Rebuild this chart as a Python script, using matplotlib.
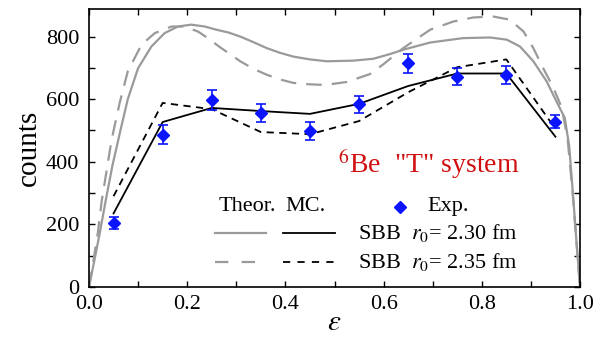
import matplotlib
matplotlib.use("Agg")
import matplotlib.pyplot as plt
from matplotlib.ticker import MultipleLocator, FormatStrFormatter

plt.rcParams['font.family'] = ['Liberation Serif', 'DejaVu Serif']
plt.rcParams['mathtext.fontset'] = 'stix'

# Experimental data
exp_x = [0.05, 0.15, 0.25, 0.35, 0.45, 0.55, 0.65, 0.75, 0.85, 0.95]
exp_y = [205, 487, 598, 555, 498, 583, 715, 672, 678, 528]
exp_err = [20, 30, 32, 28, 28, 28, 30, 28, 28, 20]

# Monte Carlo curves
mc_x = [0.05, 0.15, 0.25, 0.35, 0.45, 0.55, 0.65, 0.75, 0.85, 0.95]
mc_230 = [235, 527, 572, 562, 553, 585, 642, 682, 682, 480]
mc_235 = [290, 588, 568, 495, 488, 530, 622, 702, 727, 505]

# Theoretical curves
th230_x = [0.0, 0.011, 0.022, 0.034, 0.048, 0.064, 0.079, 0.100, 0.127, 0.154, 0.181,
           0.208, 0.236, 0.259, 0.284, 0.308, 0.335, 0.362, 0.389, 0.416, 0.450, 0.484,
           0.538, 0.579, 0.613, 0.640, 0.695, 0.762, 0.817, 0.851, 0.878, 0.905, 0.932,
           0.952, 0.969, 0.978, 0.986, 0.993, 1.0]
th230_y = [0, 85, 173, 276, 390, 500, 600, 699, 768, 811, 832,
           838, 832, 822, 813, 800, 782, 763, 748, 736, 727, 721,
           723, 729, 744, 758, 781, 795, 797, 790, 768, 721, 657,
           593, 540, 450, 290, 140, 0]
th235_x = [0.0, 0.009, 0.018, 0.026, 0.046, 0.062, 0.079, 0.107, 0.134, 0.168, 0.195,
           0.222, 0.242, 0.265, 0.308, 0.335, 0.362, 0.389, 0.416, 0.443, 0.470, 0.498,
           0.525, 0.572, 0.600, 0.640, 0.695, 0.742, 0.783, 0.823, 0.857, 0.885, 0.905,
           0.925, 0.946, 0.963, 0.975, 0.985, 0.993, 1.0]
th235_y = [0, 85, 173, 276, 470, 585, 689, 774, 811, 832, 832,
           816, 795, 768, 721, 697, 678, 663, 652, 648, 646, 649,
           655, 680, 712, 763, 822, 848, 861, 864, 854, 816, 763,
           699, 636, 572, 470, 300, 140, 0]

gray = '#9a9a9a'
blue = '#0a14ff'

fig = plt.figure(figsize=(6.02, 3.37), dpi=100)
ax = fig.add_axes([89/602, 50/337, 491/602, 278/337])

ax.plot(th230_x, th230_y, color=gray, lw=1.6, solid_joinstyle='round')
ax.plot(th235_x, th235_y, color=gray, lw=1.6, dashes=(7, 4.5))
ax.plot(mc_x, mc_230, color='black', lw=1.3)
ax.plot(mc_x, mc_235, color='black', lw=1.3, dashes=(4, 3))
ax.errorbar(exp_x, exp_y, yerr=exp_err, fmt='D', color=blue, ms=6.5,
            ecolor=blue, elinewidth=1.2, capsize=3.5, capthick=1.2, zorder=5)

ax.set_xlim(0, 1.0)
ax.set_ylim(0, 888)
ax.xaxis.set_major_locator(MultipleLocator(0.2))
ax.xaxis.set_minor_locator(MultipleLocator(0.1))
ax.yaxis.set_major_locator(MultipleLocator(200))
ax.yaxis.set_minor_locator(MultipleLocator(100))
ax.tick_params(which='both', direction='in', top=True, right=True, width=1.0, labelsize=16)
ax.tick_params(which='major', length=4.5)
ax.tick_params(which='minor', length=4.5)
ax.tick_params(axis='x', pad=6)
ax.tick_params(axis='y', pad=7)
ax.xaxis.set_major_formatter(FormatStrFormatter('%.1f'))
for s in ax.spines.values():
    s.set_linewidth(1.2)

ax.set_xlabel(r'$\varepsilon$', fontsize=21, labelpad=-3)
ax.set_ylabel('counts', fontsize=21, labelpad=3)

# Custom legend
fs = 16
ax.text(0.263, 257, 'Theor.', fontsize=fs, va='center', ha='left')
ax.text(0.399, 257, 'MC.', fontsize=fs, va='center', ha='left')
ax.plot([0.633], [257], 'D', color=blue, ms=6.5)
ax.text(0.690, 257, 'Exp.', fontsize=fs, va='center', ha='left')
ax.plot([0.257, 0.360], [174, 174], color=gray, lw=1.6)
ax.plot([0.395, 0.501], [174, 174], color='black', lw=1.3)
ax.text(0.548, 174, r'SBB  $r_0$= 2.30 fm', fontsize=fs, va='center', ha='left')
ax.plot([0.257, 0.360], [81, 81], color=gray, lw=1.6, dashes=(6, 6))
ax.plot([0.395, 0.501], [81, 81], color='black', lw=1.3, dashes=(4, 4))
ax.text(0.548, 81, r'SBB  $r_0$= 2.35 fm', fontsize=fs, va='center', ha='left')

ax.text(0.507, 391, '$^{6}$Be  "T" system', fontsize=20, color='#d01010', va='center', ha='left')

fig.savefig('out.png', dpi=100)
